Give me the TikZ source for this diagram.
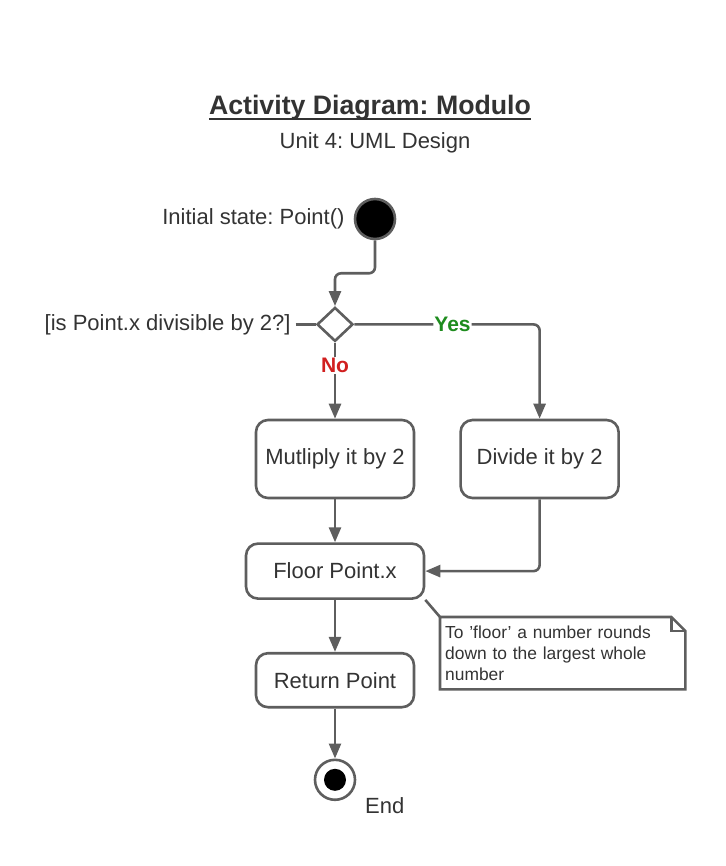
\documentclass[tikz,border=0pt]{standalone}
\usepackage{fontspec}
\setmainfont{Liberation Sans}
\frenchspacing
\usetikzlibrary{positioning,shapes.geometric,arrows.meta}
\definecolor{linegray}{HTML}{5E5E5E}
\definecolor{textgray}{HTML}{333333}
\definecolor{yesgreen}{HTML}{1E8C1E}
\definecolor{nored}{HTML}{D11F1F}
\tikzstyle{flow}=[draw=linegray,line width=2.6pt]
\tikzstyle{activity}=[rectangle,rounded corners=12pt,flow,fill=white,
text=textgray,minimum width=158pt,font=\fontsize{22}{26}\selectfont]
\tikzstyle{initial}=[circle,flow,fill=black,minimum size=40pt,inner sep=0pt]
\tikzstyle{final}=[circle,flow,fill=white,minimum size=40pt,inner sep=0pt,
path picture={\fill[black] (path picture bounding box.center) circle[radius=11pt];}]
\tikzstyle{decision}=[diamond,flow,fill=white,minimum width=36pt,
minimum height=34pt,inner sep=0pt]
\tikzstyle{lab}=[text=textgray,inner sep=1pt,font=\fontsize{22}{26}\selectfont]
\tikzstyle{guard}=[fill=white,inner sep=1pt,font=\fontsize{21}{25}\selectfont\bfseries]
\tikzstyle{note}=[text=textgray,inner sep=5pt,text width=235pt,align=left,
minimum height=72pt,font=\fontsize{17.4}{21}\selectfont]

\begin{document}
\begin{tikzpicture}[x=1pt,y=-1pt,>={Triangle[length=15pt,width=12pt]}]
            \useasboundingbox (0,0) rectangle (725,866);

            % TITLE PART

            \node[text=textgray,inner sep=0pt,anchor=base,font=\fontsize{26.7}{32}\selectfont\bfseries] (title) at (370,115) {Activity Diagram: Modulo};
            \draw[textgray,line width=2.2pt] ([yshift=-4pt]title.base west) -- ([yshift=-4pt]title.base east);
            \node[lab,anchor=base] (sub) at (375,149) {Unit 4: UML Design};

            % START AND DECISION PART

            \node[initial] (start) at (375,219) {};
            \node[lab,left=8pt of start] (startlab) {Initial state: Point()};
            \node[activity,minimum height=78pt] (mult) at (335,459) {Mutliply it by 2};
            \node[decision,above=76pt of mult] (dec) {};
            \node[lab,left=24pt of dec] (declab) {[is Point.x divisible by 2?]};
            \node[activity,minimum height=78pt,right=44pt of mult] (div) {Divide it by 2};

            \draw[flow,->,rounded corners=6pt] (start.south) -- ++(0,33) -| (dec.north);
            \path (declab.east) edge[flow,shorten <=4pt] (dec.west);
            \draw[flow,->] (dec.south) -- node[guard,text=nored,pos=0.3] {No} (mult.north);
            \draw[flow,->,rounded corners=6pt] (dec.east) -- node[guard,text=yesgreen,pos=0.53] {Yes} (div.north |- dec.east) -- (div.north);

            % FLOOR AND END PART

            \node[activity,minimum width=178pt,minimum height=55pt,below=43pt of mult] (floor) {Floor Point.x};
            \node[activity,minimum height=54pt,below=52pt of floor] (ret) {Return Point};
            \node[final,below=50pt of ret] (end) {};
            \node[lab,anchor=west] (endlab) at ([xshift=29pt,yshift=-26pt]end.center) {End};
            \node[note,anchor=north west] (note) at (440,617) {To 'floor' a number rounds down to the largest whole number};
            \draw[flow,line join=miter] (note.north west) -- ([xshift=-14pt]note.north east) -- ([yshift=-14pt]note.north east) -- (note.south east) -- (note.south west) -- cycle;
            \draw[flow] ([xshift=-14pt]note.north east) |- ([yshift=-14pt]note.north east);

            \path[->] (mult) edge[flow] (floor);
            \draw[flow,->,rounded corners=6pt] (div.south) |- (floor.east);
            \path[->] (floor) edge[flow] (ret);
            \path[->] (ret) edge[flow] (end);
            \path (floor.south east) edge[flow] (note.north west);

        \end{tikzpicture}
\end{document}
